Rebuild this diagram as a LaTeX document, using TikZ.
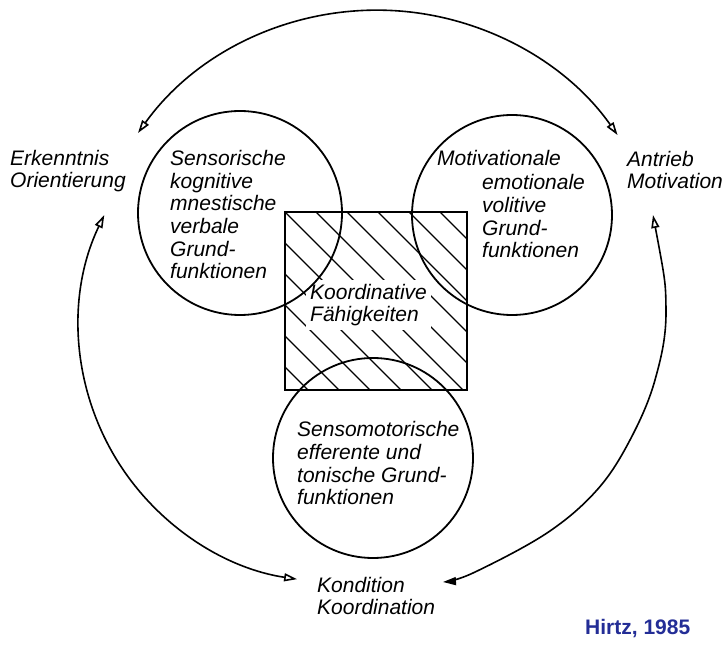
\documentclass[tikz,border=0pt]{standalone}
\usepackage{fontspec}
\setmainfont{Liberation Sans}
\usetikzlibrary{arrows.meta}
\definecolor{hirtzblue}{RGB}{35,45,150}
\tikzset{
  txt/.style={font=\fontsize{21}{22.7}\selectfont\itshape, inner sep=0pt, anchor=base west, align=left},
  ring/.style={draw, circle, line width=1.8pt, inner sep=0pt},
  arcline/.style={line width=1.6pt},
  hatch/.style={line width=1.1pt},
  >={Triangle[open,length=13pt,width=8pt]}
}
\begin{document}
\begin{tikzpicture}[x=1pt,y=1pt]
\useasboundingbox (0,0) rectangle (724,646);

% hatching of the square
\begin{scope}
  \clip (285,256) rectangle (467,434);
  \foreach \k in {533,564,...,905} \draw[hatch] ({\k-500},500) -- ({\k-200},200);
\end{scope}
\node[txt, fill=white, inner sep=4pt] (koord) at (306,324) {Koordinative\\Fähigkeiten};

% circles and square
\node[ring, minimum size=204pt] (lc) at (240,433) {};
\node[ring, minimum size=200pt] (rc) at (512,431) {};
\node[ring, minimum size=200pt] (bc) at (373,188) {};
\node[draw, line width=2pt, minimum width=182pt, minimum height=178pt, inner sep=0pt] (sq) at (376,345) {};

% texts (anchor = baseline of the last line)
\node[txt] (sens) at (170,367) {Sensorische\\kognitive\\mnestische\\verbale\\Grund-\\funktionen};
\node[txt] (motl) at (437,480) {Motivationale};
\node[txt] (emo) at (482,388) {emotionale\\volitive\\Grund-\\funktionen};
\node[txt] (senso) at (297,141) {Sensomotorische\\efferente und\\tonische Grund-\\funktionen};
\node[txt] (erk) at (10,458) {Erkenntnis\\Orientierung};
\node[txt] (antr) at (627,457) {Antrieb\\Motivation};
\node[txt] (kond) at (317,31) {Kondition\\Koordination};
\node[font=\fontsize{21}{24}\selectfont\bfseries, text=hirtzblue, inner sep=0pt, anchor=base west] (src) at (585,11) {Hirtz, 1985};

% outer arrows
\coordinate (tl) at (138,513);
\draw[arcline, <->] (tl) arc[start angle=144.4, end angle=35.1, radius=294pt];
\coordinate (la) at (104.3,431);
\draw[arcline, <->] (la) arc[start angle=154.3, end angle=261.5, radius=256pt];
\coordinate (ra) at (653,431);
\coordinate (r2) at (666,336);
\coordinate (r3) at (655,266);
\coordinate (r4) at (630,206);
\coordinate (r5) at (597,156);
\coordinate (r6) at (547,113);
\coordinate (r7) at (473,73);
\coordinate (rb) at (443,64);
\draw[arcline, {Triangle[open,length=13pt,width=8pt]}-{Triangle[length=13pt,width=8pt]}]
  plot[smooth, tension=0.6] coordinates {(ra) (r2) (r3) (r4) (r5) (r6) (r7) (rb)};
\end{tikzpicture}
\end{document}
